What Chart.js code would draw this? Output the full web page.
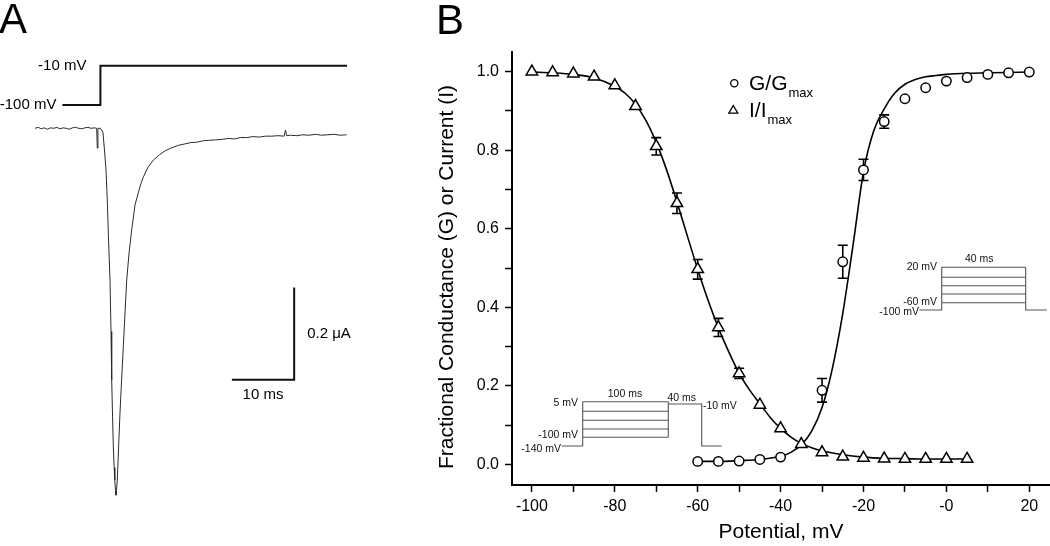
<!DOCTYPE html>
<html>
<head>
<meta charset="utf-8">
<script src="https://cdn.jsdelivr.net/npm/chart.js@4/dist/chart.umd.min.js"></script>
<style>
  html, body { margin: 0; padding: 0; background: #fff; }
  #wrap { position: relative; width: 1050px; height: 546px; }
  #chartA { position: absolute; left: 0; top: 0; }
  #chartB { position: absolute; left: 400px; top: 0; }
</style>
</head>
<body>
<div id="wrap">
  <canvas id="chartA" width="400" height="546"></canvas>
  <canvas id="chartB" width="650" height="546"></canvas>
</div>
<script>
const FONT = '"Liberation Sans", Arial, Helvetica, sans-serif';

// ---- Panel A: current trace (ms, uA) and voltage step (ms, mV)
const traceTime = [0, 0.5, 1, 1.5, 2, 2.5, 3, 3.5, 4, 4.5, 5, 5.5, 6, 6.5, 7, 7.5, 8, 8.5, 9, 9.5, 9.9, 10, 10.1, 10.5,
  10.9, 11.15, 11.4, 11.6, 11.8, 12.04, 12.2, 12.31, 12.45, 12.57, 12.7, 12.81, 12.92, 13, 13.08, 13.21, 13.4, 13.64,
  13.9, 14.17, 14.45, 14.72, 15.1, 15.52, 16.05, 16.58, 17, 17.38, 18.14, 19, 20, 21, 22, 23, 24, 25, 26, 27, 28, 29,
  30, 31, 32, 33, 34, 35, 36, 37, 38, 39, 40, 40.2, 40.4, 41, 42, 43, 44, 45, 46, 47, 48, 49, 50];
const traceCurrent = [0, 0.002, -0.001, 0.001, -0.002, 0.001, 0, 0.002, -0.001, 0.001, 0, -0.002, 0.001, 0.002, 0, -0.001,
  0.001, 0.002, 0, 0.001, 0, -0.043, 0, 0,
  -0.008, -0.047, -0.09, -0.155, -0.24, -0.329, -0.44, -0.545, -0.625, -0.69, -0.735, -0.762, -0.785, -0.795, -0.785,
  -0.762, -0.697, -0.617, -0.545, -0.474, -0.4, -0.329, -0.27, -0.22, -0.166, -0.14, -0.12, -0.106, -0.084, -0.069,
  -0.057, -0.048, -0.042, -0.037, -0.034, -0.031, -0.03, -0.027, -0.026, -0.025, -0.024, -0.022, -0.023, -0.02, -0.02,
  -0.018, -0.019, -0.017, -0.017, -0.016, -0.017, -0.004, -0.016, -0.015, -0.016, -0.014, -0.015, -0.013, -0.015,
  -0.014, -0.013, -0.015, -0.014];
const stepTime = [4.4, 10.5, 10.5, 50.1];
const stepVoltage = [-100, -100, -10, -10];
const scaleBarTime = [31.6, 41.6, 41.6];
const scaleBarCurrent = [-0.545, -0.545, -0.345];

// ---- Panel B: normalized conductance and current vs potential (mV)
const gPotential = [-60, -55, -50, -45, -40, -30, -25, -20, -15, -10, -5, 0, 5, 10, 15, 20];
const gValues = [0.008, 0.008, 0.009, 0.013, 0.019, 0.189, 0.516, 0.75, 0.873, 0.931, 0.959, 0.976, 0.985, 0.993, 0.997, 0.999];
const gErrors = [0, 0, 0, 0, 0, 0.03, 0.042, 0.027, 0.017, 0, 0, 0, 0, 0, 0, 0];

const iPotential = [-100, -95, -90, -85, -80, -75, -70, -65, -60, -55, -50, -45, -40, -35, -30, -25, -20, -15, -10, -5, 0, 5];
const iValues = [1.0, 0.998, 0.995, 0.987, 0.965, 0.912, 0.81, 0.665, 0.497, 0.349, 0.232, 0.152, 0.092, 0.052, 0.031,
  0.02, 0.017, 0.015, 0.014, 0.014, 0.014, 0.014];
const iErrors = [0, 0, 0, 0, 0, 0, 0.022, 0.026, 0.025, 0.023, 0.013, 0, 0, 0, 0, 0, 0, 0, 0, 0, 0, 0];

// fitted Boltzmann curves
const fitGPotential = [-60, -55, -50, -45, -40, -37.5, -35, -32.5, -30, -27.5, -25, -22.5, -20, -17.5, -15, -12.5, -10,
  -7.5, -5, -2.5, 0, 5, 10, 15, 20];
const fitGValues = [0.008, 0.008, 0.01, 0.013, 0.021, 0.031, 0.05, 0.085, 0.145, 0.245, 0.385, 0.56, 0.745, 0.85, 0.905,
  0.945, 0.968, 0.98, 0.987, 0.99, 0.993, 0.996, 0.997, 0.998, 0.999];
const fitIPotential = [-100, -95, -90, -85, -80, -77.5, -75, -72.5, -70, -67.5, -65, -62.5, -60, -57.5, -55, -52.5, -50,
  -47.5, -45, -42.5, -40, -37.5, -35, -32.5, -30, -25, -20, -15, -10, -5, 0, 5];
const fitIValues = [0.999, 0.997, 0.993, 0.984, 0.963, 0.945, 0.917, 0.876, 0.82, 0.75, 0.668, 0.582, 0.497, 0.418, 0.348,
  0.287, 0.232, 0.19, 0.155, 0.12, 0.092, 0.07, 0.054, 0.043, 0.035, 0.025, 0.019, 0.016, 0.015, 0.014, 0.014, 0.014];

const xTickValues = [-100, -80, -60, -40, -20, 0, 20];
const xTickLabels = ['-100', '-80', '-60', '-40', '-20', '-0', '20'];
const yTickValues = [0, 0.2, 0.4, 0.6, 0.8, 1.0];
const yTickLabels = ['0.0', '0.2', '0.4', '0.6', '0.8', '1.0'];

const toPoints = (xs, ys) => xs.map((x, i) => ({ x: x, y: ys[i] }));

// text for panel A
const labelsA = {
  id: 'labelsA',
  afterDraw(chart) {
    const ctx = chart.ctx;
    const xs = chart.scales.x, v = chart.scales.v, y = chart.scales.y;
    ctx.save();
    ctx.fillStyle = '#000';
    ctx.font = '42px ' + FONT;
    ctx.textBaseline = 'alphabetic';
    ctx.textAlign = 'left';
    ctx.fillText('A', -1, 33);

    ctx.font = '15px ' + FONT;
    ctx.textBaseline = 'middle';
    ctx.textAlign = 'right';
    ctx.fillText('-10 mV', xs.getPixelForValue(stepTime[1]) - 14, v.getPixelForValue(stepVoltage[2]));
    ctx.fillText('-100 mV', xs.getPixelForValue(stepTime[0]) - 6, v.getPixelForValue(stepVoltage[0]));

    const barX = xs.getPixelForValue(scaleBarTime[1]);
    const barMid = (y.getPixelForValue(scaleBarCurrent[1]) + y.getPixelForValue(scaleBarCurrent[2])) / 2;
    ctx.textAlign = 'left';
    ctx.fillText('0.2 \u03bcA', barX + 13, barMid);
    ctx.textAlign = 'center';
    const barBottom = y.getPixelForValue(scaleBarCurrent[0]);
    ctx.fillText('10 ms', (xs.getPixelForValue(scaleBarTime[0]) + barX) / 2, barBottom + 15);
    ctx.restore();
  }
};

new Chart(document.getElementById('chartA'), {
  type: 'line',
  data: {
    datasets: [
      { data: toPoints(traceTime, traceCurrent), borderColor: '#2b2b2b', borderWidth: 1, pointRadius: 0, yAxisID: 'y' },
      { data: toPoints(stepTime, stepVoltage), borderColor: '#111', borderWidth: 2, pointRadius: 0, yAxisID: 'v' },
      { data: toPoints(scaleBarTime, scaleBarCurrent), borderColor: '#111', borderWidth: 2, pointRadius: 0, yAxisID: 'y',
        borderJoinStyle: 'miter' }
    ]
  },
  options: {
    responsive: false,
    animation: false,
    devicePixelRatio: 1,
    layout: { padding: 0 },
    plugins: { legend: { display: false }, tooltip: { enabled: false } },
    scales: {
      x: { type: 'linear', display: false, min: -5.62, max: 58.59 },
      y: { display: false, min: -0.905, max: 0.278 },
      v: { display: false, min: -1110, max: 140.4 }
    }
  },
  plugins: [labelsA]
});

// error bars under the markers
const errorBars = {
  id: 'errorBars',
  beforeDatasetsDraw(chart) {
    const ctx = chart.ctx;
    const yScale = chart.scales.y;
    ctx.save();
    ctx.strokeStyle = '#000';
    ctx.lineWidth = 1.6;
    chart.data.datasets.forEach((ds, di) => {
      if (!ds.errors) return;
      const meta = chart.getDatasetMeta(di);
      ds.data.forEach((p, j) => {
        const e = ds.errors[j];
        if (!e) return;
        const x = meta.data[j].x;
        const top = yScale.getPixelForValue(p.y + e);
        const bot = yScale.getPixelForValue(p.y - e);
        ctx.beginPath();
        ctx.moveTo(x, top); ctx.lineTo(x, bot);
        ctx.moveTo(x - 5, top); ctx.lineTo(x + 5, top);
        ctx.moveTo(x - 5, bot); ctx.lineTo(x + 5, bot);
        ctx.stroke();
      });
    });
    ctx.restore();
  }
};

// legend with subscripts, y title, panel letter and the two protocol insets
const decorB = {
  id: 'decorB',
  afterDraw(chart) {
    const ctx = chart.ctx;
    ctx.save();
    ctx.fillStyle = '#000';

    ctx.font = '42px ' + FONT;
    ctx.textAlign = 'left';
    ctx.textBaseline = 'alphabetic';
    ctx.fillText('B', 36, 33.5);

    // y axis title
    ctx.save();
    ctx.translate(47, 277);
    ctx.rotate(-Math.PI / 2);
    ctx.font = '21px ' + FONT;
    ctx.textAlign = 'center';
    ctx.textBaseline = 'middle';
    ctx.fillText('Fractional Conductance (G) or Current (I)', 0, 0);
    ctx.restore();

    // legend
    const dsG = chart.data.datasets[0], dsI = chart.data.datasets[1];
    ctx.fillStyle = '#fff';
    ctx.strokeStyle = '#000';
    ctx.lineWidth = 1.3;
    ctx.beginPath(); ctx.arc(334.3, 83.3, 3.6, 0, Math.PI * 2); ctx.fill(); ctx.stroke();
    ctx.beginPath();
    ctx.moveTo(333.3, 105.5); ctx.lineTo(337.8, 113.2); ctx.lineTo(328.8, 113.2); ctx.closePath();
    ctx.fill(); ctx.stroke();
    ctx.fillStyle = '#000';
    ctx.textBaseline = 'alphabetic';
    ctx.textAlign = 'left';
    const legendItem = (main, sub, x, y) => {
      ctx.font = '21px ' + FONT;
      ctx.fillText(main, x, y);
      const w = ctx.measureText(main).width;
      ctx.font = '13px ' + FONT;
      ctx.fillText(sub, x + w + 1, y + 7);
    };
    legendItem(dsG.label.slice(0, 3), dsG.label.slice(3), 349, 90);
    legendItem(dsI.label.slice(0, 3), dsI.label.slice(3), 349, 117);

    // protocol insets
    ctx.strokeStyle = '#555';
    ctx.lineWidth = 1.1;
    const path = pts => {
      ctx.beginPath();
      ctx.moveTo(pts[0][0], pts[0][1]);
      for (let k = 1; k < pts.length; k++) ctx.lineTo(pts[k][0], pts[k][1]);
      ctx.stroke();
    };
    // inactivation protocol (lower left)
    path([[161.7, 446], [182.7, 446], [182.7, 401.7]]);
    [401.7, 411.3, 420.3, 429, 437.3].forEach(yy => path([[182.7, yy], [268.3, yy]]));
    path([[268.3, 401.7], [268.3, 437.3]]);
    path([[268.3, 404], [301.7, 404], [301.7, 446], [321.7, 446]]);
    // activation protocol (right)
    path([[519.3, 310], [541.7, 310], [541.7, 267.3]]);
    [267.3, 277.3, 285.7, 294, 302.7].forEach(yy => path([[541.7, yy], [625.7, yy]]));
    path([[625.7, 267.3], [625.7, 310], [646.7, 310]]);

    ctx.fillStyle = '#111';
    ctx.font = '10.5px ' + FONT;
    ctx.textBaseline = 'middle';
    ctx.textAlign = 'right';
    ctx.fillText('5 mV', 178, 403);
    ctx.fillText('-100 mV', 178, 435);
    ctx.fillText('-140 mV', 161, 449);
    ctx.fillText('20 mV', 537, 266.7);
    ctx.fillText('-60 mV', 537, 301.7);
    ctx.fillText('-100 mV', 519, 312);
    ctx.textAlign = 'center';
    ctx.fillText('100 ms', 225, 394);
    ctx.fillText('40 ms', 281.7, 398);
    ctx.fillText('40 ms', 579.3, 259.3);
    ctx.textAlign = 'left';
    ctx.fillText('-10 mV', 303, 406);
    ctx.restore();
  }
};

new Chart(document.getElementById('chartB'), {
  type: 'scatter',
  data: {
    datasets: [
      { label: 'G/Gmax', data: toPoints(gPotential, gValues), errors: gErrors, pointStyle: 'circle', pointRadius: 4.7,
        pointBorderWidth: 1.5, borderColor: '#000', backgroundColor: '#fff', showLine: false },
      { label: 'I/Imax', data: toPoints(iPotential, iValues), errors: iErrors, pointStyle: 'triangle', pointRadius: 6.6,
        pointBorderWidth: 1.5, borderColor: '#000', backgroundColor: '#fff', showLine: false },
      { type: 'line', label: 'G fit', data: toPoints(fitGPotential, fitGValues), borderColor: '#000', borderWidth: 1.6,
        pointRadius: 0, cubicInterpolationMode: 'monotone', fill: false },
      { type: 'line', label: 'I fit', data: toPoints(fitIPotential, fitIValues), borderColor: '#000', borderWidth: 1.6,
        pointRadius: 0, cubicInterpolationMode: 'monotone', fill: false }
    ]
  },
  options: {
    responsive: false,
    animation: false,
    devicePixelRatio: 1,
    layout: { autoPadding: false, padding: { top: 52, left: 0, right: 0, bottom: 0 } },
    plugins: { legend: { display: false }, tooltip: { enabled: false } },
    scales: {
      x: {
        type: 'linear', min: -104.8, max: 25,
        afterFit(s) { s.height = 61; },
        ticks: {
          stepSize: 10, includeBounds: false, autoSkip: false, maxRotation: 0, padding: 5, color: '#000',
          font: { family: FONT, size: 16 },
          callback: v => { const k = xTickValues.indexOf(Math.round(v)); return k >= 0 ? xTickLabels[k] : ''; }
        },
        grid: { drawOnChartArea: false, drawTicks: true, tickLength: 7, tickColor: '#000', tickWidth: 1.5 },
        border: { display: true, color: '#000', width: 2 },
        title: { display: true, text: 'Potential, mV', color: '#000', font: { family: FONT, size: 21 },
          padding: { top: 0, bottom: 1 } }
      },
      y: {
        type: 'linear', min: -0.052, max: 1.05,
        afterFit(s) { s.width = 112; },
        ticks: {
          stepSize: 0.1, includeBounds: false, autoSkip: false, padding: 6, color: '#000',
          font: { family: FONT, size: 16 },
          callback: v => { const k = yTickValues.findIndex(t => Math.abs(t - v) < 1e-6); return k >= 0 ? yTickLabels[k] : ''; }
        },
        grid: { drawOnChartArea: false, drawTicks: true, tickLength: 7, tickColor: '#000', tickWidth: 1.5 },
        border: { display: true, color: '#000', width: 2 }
      }
    }
  },
  plugins: [errorBars, decorB]
});
</script>
</body>
</html>
